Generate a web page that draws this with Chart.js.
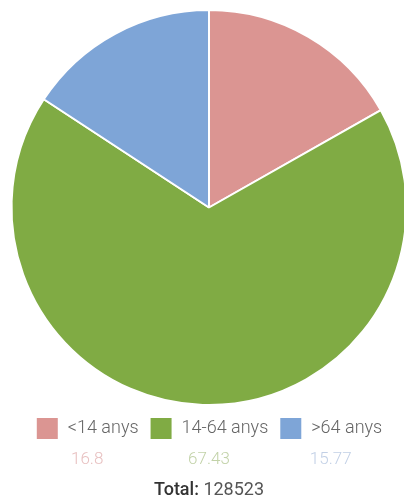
<!DOCTYPE html>
<html>
<head>
<meta charset="utf-8">
<script src="https://cdn.jsdelivr.net/npm/chart.js@4"></script>
<style>
  html, body { margin: 0; padding: 0; background: #fff; overflow: hidden; }
  #wrap { position: relative; width: 418px; height: 503px; }
</style>
</head>
<body>
<div id="wrap"><canvas id="pie"></canvas></div>
<script>
const labels = ['<14 anys', '14-64 anys', '>64 anys'];
const percents = [16.8, 67.43, 15.77];
const total = 128523;
const colors = ['#db9592', '#80ab44', '#7ea5d7'];
const valueColors = ['#e8c0c0', '#c2d2a8', '#c2d0e6'];

// prints the percentage under each legend entry and the total underneath
const valuesPlugin = {
  id: 'legendValues',
  afterDraw(chart) {
    const ctx = chart.ctx;
    const boxes = chart.legend.legendHitBoxes;
    ctx.save();
    ctx.textAlign = 'center';
    ctx.textBaseline = 'middle';
    ctx.font = '300 17px Roboto';
    boxes.forEach((b, i) => {
      ctx.fillStyle = valueColors[i];
      ctx.fillText(String(percents[i]), b.left + b.width / 2, 460);
    });
    const cx = chart.width / 2;
    const head = 'Total: ';
    const rest = String(total);
    ctx.font = '500 18px Roboto';
    const w1 = ctx.measureText(head).width;
    ctx.font = '400 18px Roboto';
    const w2 = ctx.measureText(rest).width;
    const x0 = cx - (w1 + w2) / 2;
    ctx.textAlign = 'left';
    ctx.fillStyle = '#333';
    ctx.font = '500 18px Roboto';
    ctx.fillText(head, x0, 490);
    ctx.fillStyle = '#555';
    ctx.font = '400 18px Roboto';
    ctx.fillText(rest, x0 + w1, 490);
    ctx.restore();
  }
};

new Chart(document.getElementById('pie'), {
  type: 'pie',
  data: {
    labels,
    datasets: [{
      data: percents,
      backgroundColor: colors,
      borderColor: '#fff',
      borderWidth: 2,
    }]
  },
  options: {
    responsive: true,
    maintainAspectRatio: false,
    animation: false,
    layout: { padding: { top: 9, bottom: 53 } },
    plugins: {
      legend: {
        position: 'bottom',
        labels: {
          boxWidth: 23,
          boxHeight: 23,
          padding: 11,
          color: '#666',
          font: { family: 'Roboto', size: 18, weight: '300' }
        }
      },
      tooltip: { enabled: false }
    }
  },
  plugins: [valuesPlugin]
});
</script>
</body>
</html>
